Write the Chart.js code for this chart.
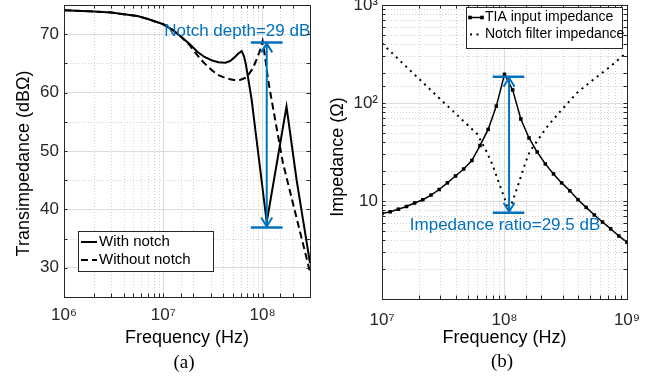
<!DOCTYPE html>
<html>
<head>
<meta charset="utf-8">
<script src="https://cdn.jsdelivr.net/npm/chart.js@4.4.0/dist/chart.umd.min.js"></script>
<style>
body { margin: 0; background: #fff; }
#wrap { position: relative; width: 657px; height: 381px; overflow: hidden; }
canvas { position: absolute; top: 0; }
.cap { position: absolute; width: 80px; text-align: center; line-height: 22px;
       font-size: 19px; font-family: "Liberation Serif", "Times New Roman", serif; color: #000; }
</style>
</head>
<body>
<div id="wrap">
  <canvas id="chartA" width="330" height="381" style="left:0"></canvas>
  <canvas id="chartB" width="332" height="381" style="left:325px"></canvas>
  <div class="cap" style="left:144px; top:351px">(a)</div>
  <div class="cap" style="left:462px; top:350px">(b)</div>
</div>
<script>
// (a) transimpedance, dB ohm
let freqWith = [1e6, 2e6, 3e6, 4e6, 5.5e6, 7e6, 1e7, 1.25e7, 1.5e7, 1.85e7, 2.2e7, 2.6e7, 3.1e7, 3.6e7, 4.2e7,
  4.7e7, 5.2e7, 5.7e7, 6.15e7, 6.5e7, 6.8e7, 7.1e7, 7.75e7, 1.1e8, 1.74e8, 2.2e8, 3e8];
let zWith = [74.1, 73.9, 73.7, 73.4, 73.1, 72.6, 71.7, 70.7, 69.6, 68.3, 67.0, 66.1, 65.5, 65.2, 65.1,
  65.4, 66.0, 66.7, 67.1, 66.2, 64.7, 62.8, 58.8, 37.8, 57.6, 45.0, 30.8];
let freqWithout = [1e6, 2e6, 3e6, 4e6, 5.5e6, 7e6, 1e7, 1.25e7, 1.5e7, 1.85e7, 2.2e7, 2.6e7, 3.1e7, 3.6e7, 4.2e7,
  4.7e7, 5.3e7, 6e7, 6.9e7, 8e7, 8.7e7, 9.4e7, 1e8, 1.06e8, 1.14e8, 1.23e8, 1.6e8, 2.2e8, 3e8];
let zWithout = [74.1, 73.9, 73.7, 73.4, 73.1, 72.6, 71.7, 70.7, 69.6, 68.1, 66.4, 65.0, 63.8, 63.0, 62.5,
  62.3, 62.1, 62.2, 62.6, 64.2, 65.7, 67.2, 68.8, 66.0, 62.0, 58.8, 48.0, 38.5, 29.3];

// (b) impedance, ohm
let freqTia = [1e7, 1.166e7, 1.359e7, 1.585e7, 1.848e7, 2.154e7, 2.512e7, 2.929e7, 3.415e7, 3.981e7, 4.642e7,
  5.412e7, 6.31e7, 7.356e7, 8.577e7, 1e8, 1.166e8, 1.359e8, 1.585e8, 1.848e8, 2.154e8, 2.512e8, 2.929e8,
  3.415e8, 3.981e8, 4.642e8, 5.412e8, 6.31e8, 7.356e8, 8.577e8, 1e9];
let zTia = [7.45, 7.76, 8.25, 8.79, 9.55, 10.3, 11.5, 13.1, 15.3, 18.0, 21.2, 25.9, 36.8, 53.8, 93, 196,
  136, 68.7, 44.0, 31.6, 23.9, 18.9, 15.3, 12.7, 10.3, 8.6, 7.2, 6.1, 5.2, 4.4, 3.8];
let freqFilter = [1e7, 1.5e7, 2e7, 3e7, 4e7, 5e7, 6e7, 7e7, 8e7, 9e7, 1e8, 1.07e8, 1.15e8, 1.25e8, 1.35e8,
  1.47e8, 1.6e8, 1.83e8, 2.21e8, 2.84e8, 3.88e8, 5.27e8, 7.26e8, 1e9];
let zFilter = [406, 249, 177, 109, 77.8, 59.7, 48.0, 33.6, 23.3, 15.3, 10.7, 8.1, 9.55, 12.9, 17.2,
  23.9, 31.6, 40.3, 56.5, 81.5, 126, 172, 234, 330];

const font = '"Liberation Sans", Arial, Helvetica, sans-serif';
const blue = '#0072BD';
Chart.defaults.font.family = font;
Chart.defaults.color = '#262626';

const SUP = ['⁰', '¹', '²', '³', '⁴', '⁵', '⁶', '⁷', '⁸', '⁹'];

function decade(v) {
  const e = Math.log10(v);
  return Math.abs(e - Math.round(e)) < 1e-6 ? Math.round(e) : null;
}
function isMajor(scale, v) {
  return scale.type === 'logarithmic' ? decade(v) !== null : v % 10 === 0;
}
function powLabel(v) {
  const e = decade(v);
  if (e === null || e === 0) return '';
  return e === 1 ? '10' : '10' + SUP[e];
}
function pts(xs, ys) {
  return xs.map((x, i) => ({ x: x, y: ys[i] }));
}
const gridColor = c => isMajor(c.scale, c.tick.value) ? '#dcdcdc' : 'rgba(0,0,0,0)';

function drawNote(chart, n) {
  const { ctx, scales: { x, y } } = chart;
  const px = x.getPixelForValue(n.at);
  const yt = y.getPixelForValue(n.top), yb = y.getPixelForValue(n.bottom);
  const b0 = x.getPixelForValue(n.bar[0]), b1 = x.getPixelForValue(n.bar[1]);
  ctx.save();
  ctx.strokeStyle = blue;
  ctx.fillStyle = blue;
  ctx.lineWidth = 2.5;
  ctx.beginPath();
  ctx.moveTo(b0, yt); ctx.lineTo(b1, yt);
  ctx.moveTo(b0, yb); ctx.lineTo(b1, yb);
  ctx.stroke();
  ctx.lineWidth = 2;
  ctx.beginPath();
  ctx.moveTo(px, yt); ctx.lineTo(px, yb);
  ctx.moveTo(px - 5.5, yt + 10); ctx.lineTo(px, yt + 1); ctx.lineTo(px + 5.5, yt + 10);
  ctx.moveTo(px - 5.5, yb - 10); ctx.lineTo(px, yb - 1); ctx.lineTo(px + 5.5, yb - 10);
  ctx.stroke();
  ctx.font = '17px ' + font;
  ctx.textAlign = 'center';
  ctx.textBaseline = 'alphabetic';
  ctx.fillText(n.text, x.getPixelForValue(n.textAt[0]), y.getPixelForValue(n.textAt[1]));
  ctx.restore();
}

function drawLegend(chart, L) {
  const ctx = chart.ctx;
  ctx.save();
  ctx.fillStyle = '#fff';
  ctx.fillRect(L.x, L.y, L.w, L.h);
  ctx.strokeStyle = '#262626';
  ctx.lineWidth = 1;
  ctx.strokeRect(L.x + 0.5, L.y + 0.5, L.w, L.h);
  ctx.font = L.size + 'px ' + font;
  ctx.textBaseline = 'middle';
  chart.data.datasets.forEach((ds, i) => {
    const y = L.y + L.first + i * L.row;
    ctx.strokeStyle = ds.borderColor;
    ctx.lineWidth = ds.borderWidth;
    ctx.setLineDash(ds.borderDash || []);
    ctx.beginPath();
    ctx.moveTo(L.x + L.s0, y); ctx.lineTo(L.x + L.s1, y);
    ctx.stroke();
    ctx.setLineDash([]);
    if (ds.pointRadius) {
      ctx.fillStyle = ds.borderColor;
      [L.s0, L.s1].forEach(sx => ctx.fillRect(L.x + sx - 1.8, y - 1.8, 3.6, 3.6));
    }
    ctx.fillStyle = '#000';
    ctx.fillText(ds.label, L.x + L.tx, y);
  });
  ctx.restore();
}

// dotted minor grid, box with inward ticks, notes and legend
const decor = {
  id: 'decor',
  beforeDatasetsDraw(chart) {
    const { ctx, chartArea: a, scales } = chart;
    ctx.save();
    ctx.strokeStyle = '#d2d2d2';
    ctx.lineWidth = 1;
    ctx.setLineDash([1, 2]);
    ['x', 'y'].forEach(id => {
      const s = scales[id];
      s.ticks.forEach(t => {
        if (isMajor(s, t.value)) return;
        const p = Math.round(s.getPixelForValue(t.value)) + 0.5;
        ctx.beginPath();
        if (id === 'x') { ctx.moveTo(p, a.top); ctx.lineTo(p, a.bottom); }
        else { ctx.moveTo(a.left, p); ctx.lineTo(a.right, p); }
        ctx.stroke();
      });
    });
    ctx.restore();
  },
  afterDatasetsDraw(chart, args, opts) {
    const { ctx, chartArea: a, scales } = chart;
    drawNote(chart, opts.note);
    ctx.save();
    ctx.strokeStyle = '#262626';
    ctx.lineWidth = 1;
    ctx.beginPath();
    scales.x.ticks.forEach(t => {
      const p = Math.round(scales.x.getPixelForValue(t.value)) + 0.5;
      ctx.moveTo(p, a.bottom); ctx.lineTo(p, a.bottom - 3.5);
      ctx.moveTo(p, a.top); ctx.lineTo(p, a.top + 3.5);
    });
    scales.y.ticks.forEach(t => {
      const p = Math.round(scales.y.getPixelForValue(t.value)) + 0.5;
      ctx.moveTo(a.left, p); ctx.lineTo(a.left + 3.5, p);
      ctx.moveTo(a.right, p); ctx.lineTo(a.right - 3.5, p);
    });
    ctx.stroke();
    ctx.strokeRect(Math.round(a.left) + 0.5, Math.round(a.top) + 0.5,
      Math.round(a.right - a.left), Math.round(a.bottom - a.top));
    ctx.restore();
    drawLegend(chart, opts.legend);
  }
};

function axisX(min, max, height, padTick, padTitle) {
  return {
    type: 'logarithmic', min: min, max: max,
    afterFit: s => { s.height = height; s.paddingLeft = 0; s.paddingRight = 0; },
    grid: { color: gridColor, drawTicks: false },
    border: { display: false },
    ticks: { autoSkip: false, minRotation: 0, maxRotation: 0, padding: padTick,
      font: { size: 17 }, callback: powLabel },
    title: { display: true, text: 'Frequency (Hz)', color: '#000', font: { size: 18 },
      padding: { top: 0, bottom: padTitle } }
  };
}

new Chart(document.getElementById('chartA'), {
  type: 'line',
  data: {
    datasets: [{
      label: 'With notch',
      data: pts(freqWith, zWith),
      borderColor: '#000', borderWidth: 2, pointRadius: 0, tension: 0
    }, {
      label: 'Without notch',
      data: pts(freqWithout, zWithout),
      borderColor: '#000', borderWidth: 2, borderDash: [7, 4], pointRadius: 0, tension: 0
    }]
  },
  options: {
    responsive: false, animation: false, events: [],
    layout: { padding: { left: 0, top: 5, right: 20, bottom: 24 } },
    scales: {
      x: axisX(1e6, 3e8, 60, 8, 8),
      y: {
        min: 25, max: 75,
        afterFit: s => { s.width = 64; s.paddingTop = 0; s.paddingBottom = 0; },
        grid: { color: gridColor, drawTicks: false },
        border: { display: false },
        ticks: { stepSize: 5, autoSkip: false, padding: 5, font: { size: 17 },
          callback: v => v % 10 === 0 ? v : '' },
        title: { display: true, text: 'Transimpedance (dBΩ)     ', color: '#000', font: { size: 18 },
          padding: { top: 13, bottom: 0 } }
      }
    },
    plugins: {
      legend: { display: false },
      tooltip: { enabled: false },
      decor: {
        note: { at: 1.1e8, top: 68.6, bottom: 36.9, bar: [7.6e7, 1.59e8],
          text: 'Notch depth=29 dB', textAt: [5.55e7, 69.66] },
        legend: { x: 78, y: 231, w: 135, h: 40, s0: 3, s1: 19, tx: 21, first: 11, row: 18, size: 15 }
      }
    }
  },
  plugins: [decor]
});

new Chart(document.getElementById('chartB'), {
  type: 'line',
  data: {
    datasets: [{
      label: 'TIA input impedance',
      data: pts(freqTia, zTia),
      borderColor: '#000', borderWidth: 1.5, tension: 0,
      pointStyle: 'rect', pointRadius: 2.5, pointBorderWidth: 0, pointBackgroundColor: '#000'
    }, {
      label: 'Notch filter impedance',
      data: pts(freqFilter, zFilter),
      borderColor: '#000', borderWidth: 2, borderDash: [2, 4.5], pointRadius: 0, tension: 0
    }]
  },
  options: {
    responsive: false, animation: false, events: [],
    layout: { padding: { left: 0, top: 5, right: 30, bottom: 22 } },
    scales: {
      x: axisX(1e7, 1e9, 60, 11, 10),
      y: {
        type: 'logarithmic', min: 1, max: 1000,
        afterFit: s => { s.width = 57; s.paddingTop = 0; s.paddingBottom = 0; },
        grid: { color: gridColor, drawTicks: false },
        border: { display: false },
        ticks: { autoSkip: false, padding: 4, font: { size: 17 }, callback: powLabel },
        title: { display: true, text: 'Impedance (Ω)  ', color: '#000', font: { size: 18 },
          padding: { top: 2.7, bottom: 0 } }
      }
    },
    plugins: {
      legend: { display: false },
      tooltip: { enabled: false },
      decor: {
        note: { at: 1.09e8, top: 185, bottom: 7.6, bar: [8.02e7, 1.45e8],
          text: 'Impedance ratio=29.5 dB', textAt: [1.01e8, 5.06] },
        legend: { x: 141, y: 7, w: 156, h: 41, s0: 4, s1: 16, tx: 19, first: 10.5, row: 17, size: 14 }
      }
    }
  },
  plugins: [decor]
});
</script>
</body>
</html>
